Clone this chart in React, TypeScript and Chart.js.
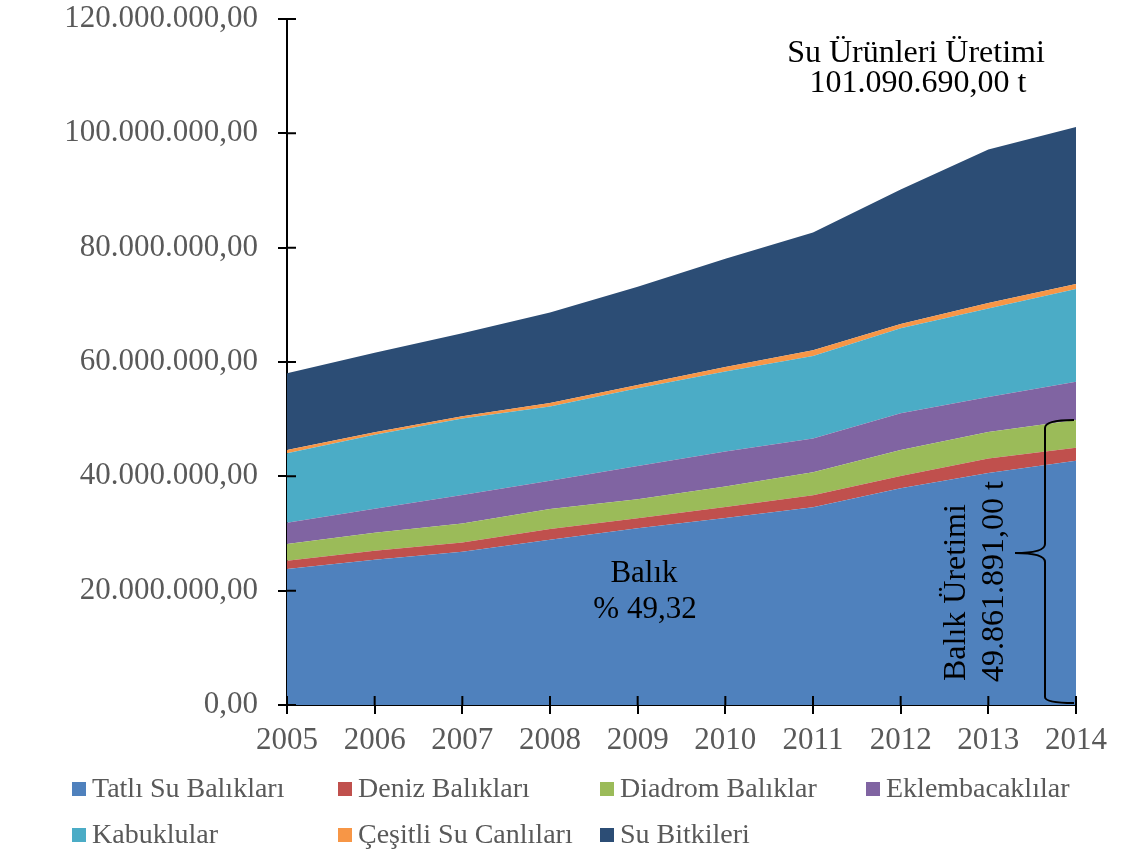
import { useEffect, useRef } from 'react';
import { Chart, registerables } from 'chart.js';

Chart.register(...registerables);

const SERIF = '"Liberation Serif", "Times New Roman", serif';

const years = ['2005', '2006', '2007', '2008', '2009', '2010', '2011', '2012', '2013', '2014'];

// values in million tonnes
const tatliSu = [23.8, 25.4, 26.8, 28.9, 30.9, 32.7, 34.6, 37.9, 40.6, 42.74];
const deniz = [1.45, 1.57, 1.64, 1.87, 1.75, 1.92, 2.1, 2.15, 2.52, 2.27];
const diadrom = [2.92, 3.15, 3.32, 3.5, 3.32, 3.61, 4.02, 4.55, 4.65, 4.85];
const eklem = [3.73, 4.2, 4.96, 4.95, 5.83, 6.12, 5.89, 6.42, 6.12, 6.7];
const kabuk = [12.14, 12.94, 13.41, 13.0, 13.59, 14.0, 14.45, 14.87, 15.47, 16.21];
const cesitli = [0.58, 0.44, 0.4, 0.6, 0.58, 0.76, 1.0, 0.75, 0.98, 0.88];
const bitki = [13.41, 13.91, 14.52, 15.85, 17.19, 18.95, 20.59, 23.53, 26.83, 27.44];

const seriesNames = [
  'Tatlı Su Balıkları',
  'Deniz Balıkları',
  'Diadrom Balıklar',
  'Eklembacaklılar',
  'Kabuklular',
  'Çeşitli Su Canlıları',
  'Su Bitkileri',
];
const seriesValues = [tatliSu, deniz, diadrom, eklem, kabuk, cesitli, bitki];
const seriesColors = ['#4F81BD', '#C0504D', '#9BBB59', '#8064A2', '#4BACC6', '#F79646', '#2C4D75'];

const yMax = 120;
const yStep = 20;

const totalLabel = ['Su Ürünleri Üretimi', '101.090.690,00 t'];
const fishLabel = ['Balık', '% 49,32'];
const fishProdLabel = ['Balık Üretimi', '49.861.891,00 t'];

function fmt(v: number): string {
  const s = Math.round(v).toString();
  return s.replace(/\B(?=(\d{3})+(?!\d))/g, '.') + ',00';
}

const legendPos = [
  [72, 782],
  [338, 782],
  [600, 782],
  [866, 782],
  [72, 828],
  [338, 828],
  [600, 828],
];

const overlay = {
  id: 'overlay',
  afterDraw(chart: any) {
    const ctx = chart.ctx;
    const xs = chart.scales.x;
    const ys = chart.scales.y;
    const area = chart.chartArea;
    ctx.save();

    // inner half of cross ticks
    ctx.strokeStyle = '#000';
    ctx.lineWidth = 2;
    ctx.beginPath();
    ys.ticks.forEach((t: any) => {
      const y = ys.getPixelForValue(t.value);
      ctx.moveTo(area.left, y);
      ctx.lineTo(area.left + 9, y);
    });
    years.forEach((_, i) => {
      const x = xs.getPixelForValue(i);
      ctx.moveTo(x, area.bottom);
      ctx.lineTo(x, area.bottom - 9);
    });
    ctx.stroke();

    // total annotation
    ctx.fillStyle = '#000';
    ctx.font = `32px ${SERIF}`;
    ctx.textAlign = 'center';
    ctx.textBaseline = 'alphabetic';
    ctx.fillText(totalLabel[0], 916, 62);
    ctx.fillText(totalLabel[1], 918, 92);

    // fish share
    ctx.font = `31px ${SERIF}`;
    ctx.fillText(fishLabel[0], 644, 582);
    ctx.fillText(fishLabel[1], 645, 618);

    // rotated fish production
    ctx.font = `32px ${SERIF}`;
    ctx.textAlign = 'left';
    ctx.save();
    ctx.translate(965, 681);
    ctx.rotate(-Math.PI / 2);
    ctx.fillText(fishProdLabel[0], 0, 0);
    ctx.restore();
    ctx.save();
    ctx.translate(1003, 682);
    ctx.rotate(-Math.PI / 2);
    ctx.fillText(fishProdLabel[1], 0, 0);
    ctx.restore();

    // curly brace
    const last = years.length - 1;
    const fishTotal = (tatliSu[last] + deniz[last] + diadrom[last]) * 1e6;
    const xR = xs.getPixelForValue(last);
    const topY = ys.getPixelForValue(fishTotal);
    const botY = ys.getPixelForValue(0) - 2;
    const midY = topY + (botY - topY) * 0.47;
    const xv = xR - 31;
    ctx.strokeStyle = '#000';
    ctx.lineWidth = 2;
    ctx.beginPath();
    ctx.moveTo(xR - 2, topY);
    ctx.quadraticCurveTo(xv, topY, xv, topY + 8);
    ctx.lineTo(xv, midY - 9);
    ctx.quadraticCurveTo(xv, midY, xR - 61, midY);
    ctx.quadraticCurveTo(xv, midY, xv, midY + 9);
    ctx.lineTo(xv, botY - 6);
    ctx.quadraticCurveTo(xv, botY, xR - 2, botY);
    ctx.stroke();

    // legend
    ctx.font = `28px ${SERIF}`;
    ctx.textAlign = 'left';
    ctx.textBaseline = 'alphabetic';
    chart.data.datasets.forEach((ds: any, i: number) => {
      const [lx, ly] = legendPos[i];
      ctx.fillStyle = ds.backgroundColor;
      ctx.fillRect(lx, ly, 14, 14);
      ctx.fillStyle = '#595959';
      ctx.fillText(ds.label, lx + 20, ly + 15);
    });

    ctx.restore();
  },
};

export default function App() {
  const ref = useRef<HTMLCanvasElement>(null);
  useEffect(() => {
    const datasets = seriesNames.map((name, i) => ({
      label: name,
      data: seriesValues[i].map((v) => v * 1e6),
      backgroundColor: seriesColors[i],
      borderColor: seriesColors[i],
      borderWidth: 0,
      pointRadius: 0,
      tension: 0,
      fill: i === 0 ? 'origin' : '-1',
    }));
    const tickFont = { family: SERIF, size: 31 };
    const chart = new Chart(ref.current as HTMLCanvasElement, {
      type: 'line',
      data: { labels: years, datasets },
      options: {
        responsive: false,
        animation: false,
        layout: { padding: { top: 0, right: 45, bottom: 89, left: 0 } },
        plugins: { legend: { display: false }, tooltip: { enabled: false } },
        scales: {
          x: {
            offset: false,
            grid: { display: true, drawOnChartArea: false, drawTicks: true, tickLength: 9, color: '#000', lineWidth: 2 },
            border: { display: true, color: '#000', width: 2 },
            ticks: { font: tickFont, color: '#595959', padding: 8, maxRotation: 0, autoSkip: false },
            afterFit: (s: any) => {
              s.height = 60;
            },
          },
          y: {
            stacked: true,
            min: 0,
            max: yMax * 1e6,
            grid: { display: true, drawOnChartArea: false, drawTicks: true, tickLength: 9, color: '#000', lineWidth: 2 },
            border: { display: true, color: '#000', width: 2 },
            ticks: {
              stepSize: yStep * 1e6,
              font: tickFont,
              color: '#595959',
              padding: 20,
              callback: (v: any) => fmt(Number(v)),
            },
            afterFit: (s: any) => {
              s.width = 287;
              s.paddingTop = 19;
              s.paddingBottom = 0;
            },
          },
        },
      } as any,
      plugins: [overlay],
    });
    return () => chart.destroy();
  }, []);
  return (
    <div style={{ position: 'absolute', left: 0, top: 0, width: 1121, height: 854, background: '#fff' }}>
      <canvas ref={ref} width={1121} height={854} style={{ display: 'block' }} />
    </div>
  );
}
